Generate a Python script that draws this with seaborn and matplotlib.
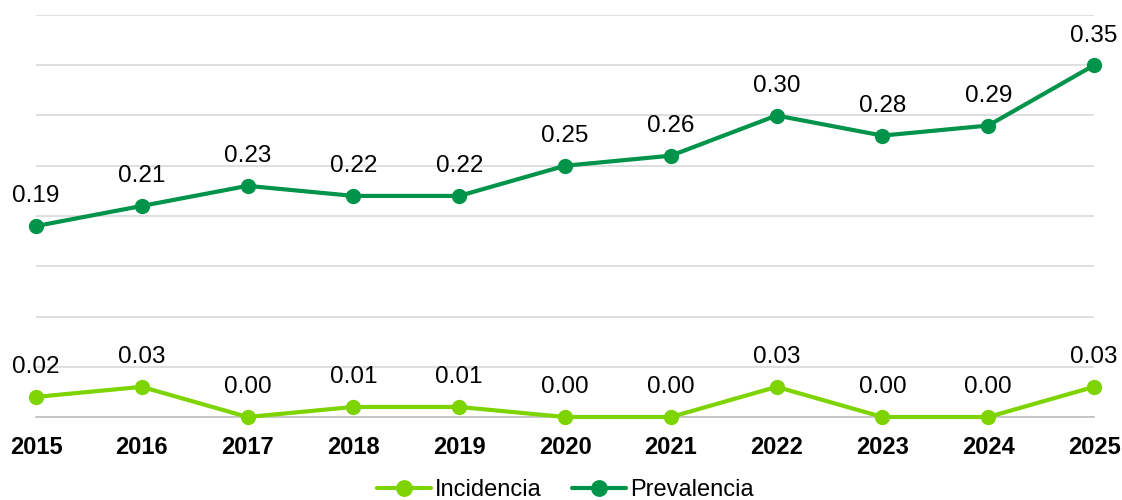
import matplotlib
matplotlib.use("Agg")
import matplotlib.pyplot as plt
import seaborn as sns
import pandas as pd

years = [2015, 2016, 2017, 2018, 2019, 2020, 2021, 2022, 2023, 2024, 2025]
incidencia = [0.02, 0.03, 0.00, 0.01, 0.01, 0.00, 0.00, 0.03, 0.00, 0.00, 0.03]
prevalencia = [0.19, 0.21, 0.23, 0.22, 0.22, 0.25, 0.26, 0.30, 0.28, 0.29, 0.35]
series_names = ["Incidencia", "Prevalencia"]
colors = {"Incidencia": "#7ED400", "Prevalencia": "#00934A"}

df = pd.concat([
    pd.DataFrame({"year": years, "value": incidencia, "serie": series_names[0]}),
    pd.DataFrame({"year": years, "value": prevalencia, "serie": series_names[1]}),
])

sns.set_style("white")
plt.rcParams["font.family"] = ["Liberation Sans", "DejaVu Sans"]

fig = plt.figure(figsize=(11.22, 5), dpi=100)
ax = fig.add_axes([36 / 1122, 83 / 500, (1094 - 36) / 1122, 402 / 500])

sns.lineplot(data=df, x="year", y="value", hue="serie", palette=colors,
             hue_order=series_names, marker="o", markersize=11, markeredgewidth=0,
             linewidth=3, ax=ax, clip_on=False, zorder=3)

# data labels above each point
for name, vals in zip(series_names, [incidencia, prevalencia]):
    for x, v in zip(years, vals):
        ax.annotate(f"{v:.2f}", (x, v), xytext=(0, 17), textcoords="offset points",
                    ha="center", va="baseline", fontsize=17.5, color="#000000")

ax.set_xlim(2015, 2025)
ax.set_ylim(0, 0.40)
ax.set_yticks([i * 0.05 for i in range(9)])
ax.set_yticklabels([])
ax.tick_params(axis="y", length=0)
ax.grid(axis="y", color="#d9d9d9", linewidth=1.2)
ax.set_axisbelow(True)
for s in ["left", "right", "top"]:
    ax.spines[s].set_visible(False)
ax.spines["bottom"].set_color("#bfbfbf")
ax.spines["bottom"].set_linewidth(1.2)

ax.set_xticks(years)
ax.set_xticklabels([str(y) for y in years], fontsize=17, fontweight="bold", color="#000000")
ax.tick_params(axis="x", length=0, pad=14)
ax.set_xlabel("")
ax.set_ylabel("")

leg = ax.legend(loc="center", bbox_to_anchor=(0.5, (10 - 83) / 402), ncol=2, frameon=False,
                fontsize=17, handlelength=2.3, handletextpad=0.15, columnspacing=1.3,
                markerscale=1.1)
for t in leg.get_texts():
    t.set_color("#000000")

fig.savefig("out.png", dpi=100)
